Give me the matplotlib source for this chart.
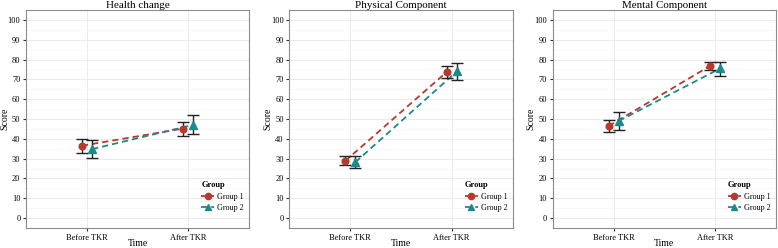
import matplotlib.pyplot as plt
import numpy as np

# datos
momentos = ['Before TKR', 'After TKR']
grupos = ['Group 1', 'Group 2']
titulos = ['Health change', 'Physical Component', 'Mental Component']

# medias por panel: [grupo][momento]
media_salud = [[36.5, 45.2], [34.8, 47.1]]
inf_salud = [[32.8, 41.5], [30.1, 42.4]]
sup_salud = [[39.9, 48.7], [39.5, 51.8]]

media_fisico = [[28.8, 73.7], [28.2, 74.0]]
inf_fisico = [[26.6, 70.6], [25.2, 69.7]]
sup_fisico = [[31.2, 77.0], [31.4, 78.2]]

media_mental = [[46.4, 76.8], [49.0, 75.5]]
inf_mental = [[43.2, 74.8], [44.5, 71.9]]
sup_mental = [[49.4, 78.8], [53.3, 78.8]]

paneles = [
    (media_salud, inf_salud, sup_salud),
    (media_fisico, inf_fisico, sup_fisico),
    (media_mental, inf_mental, sup_mental),
]

colores = ['#B5392C', '#1B8A8C']
marcadores = ['o', '^']
desplazamiento = [-0.05, 0.05]

plt.rcParams['font.family'] = ['Liberation Serif', 'DejaVu Serif']

fig = plt.figure(figsize=(7.78, 2.48), dpi=100)
posiciones = [0.0334, 0.3719, 0.7104]

for i, (medias, infs, sups) in enumerate(paneles):
    ax = fig.add_axes([posiciones[i], 0.0806, 0.287, 0.879])
    x = np.arange(1, len(momentos) + 1)
    for g in range(len(grupos)):
        xg = x + desplazamiento[g]
        m = np.array(medias[g])
        lo = m - np.array(infs[g])
        hi = np.array(sups[g]) - m
        ax.plot(xg, m, linestyle=(0, (3.5, 2.2)), color=colores[g], lw=1.3, zorder=3)
        ax.errorbar(xg, m, yerr=[lo, hi], fmt='none', ecolor='#222222',
                    elinewidth=1.0, capsize=4.3, capthick=1.0, zorder=4)
        ax.plot(xg, m, linestyle='none', marker=marcadores[g], color=colores[g],
                markersize=4.8 if g == 0 else 5.3, zorder=5)
        ax.plot([], [], linestyle=(0, (3.5, 2.2)), color=colores[g], lw=1.3,
                marker=marcadores[g], markersize=4.5, label=grupos[g])

    ax.set_xlim(0.4, 2.6)
    ax.set_ylim(-5, 105)
    ax.set_xticks(x)
    ax.set_xticklabels(momentos)
    ax.set_yticks(np.arange(0, 101, 10))
    ax.set_yticks(np.arange(5, 101, 10), minor=True)
    ax.grid(which='major', color='#EBEBEB', lw=0.7)
    ax.grid(which='minor', axis='y', color='#F5F5F5', lw=0.5)
    ax.set_axisbelow(True)
    ax.tick_params(which='major', labelsize=6.0, length=2.5, width=0.8,
                   color='#333333', pad=1.5)
    ax.tick_params(which='minor', length=0)
    for s in ax.spines.values():
        s.set_color('#8C8C8C')
        s.set_linewidth(0.8)
    ax.set_title(titulos[i], fontsize=7.9, pad=0.8)
    ax.set_xlabel('Time', fontsize=7.0)
    ax.xaxis.label.set_va('bottom')
    ax.xaxis.set_label_coords(0.5, -0.093)
    ax.set_ylabel('Score', fontsize=7.0)
    ax.yaxis.set_label_coords(-0.076, 0.5)

    leg = ax.legend(loc='upper left', bbox_to_anchor=(0.76, 0.24), frameon=False,
                    title='Group', fontsize=5.8, title_fontsize=6.0,
                    handlelength=1.6, handletextpad=0.4, labelspacing=0.4,
                    borderpad=0.2)
    leg.get_title().set_fontweight('bold')
    leg._legend_box.align = 'left'

fig.savefig('out.png', dpi=100)
